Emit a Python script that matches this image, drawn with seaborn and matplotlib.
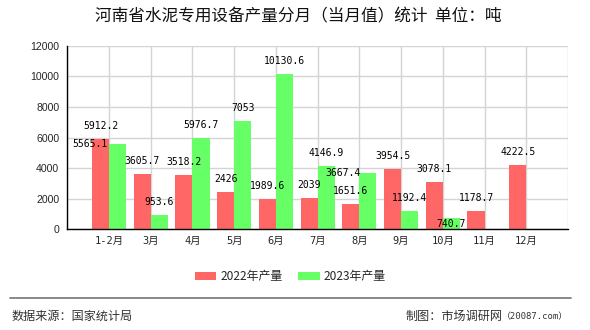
import numpy as np
import pandas as pd
import matplotlib
matplotlib.use("Agg")
import matplotlib.pyplot as plt
from matplotlib.lines import Line2D
from matplotlib.patches import Patch
import seaborn as sns

# ---- data -------------------------------------------------------------
months = ["1-2月", "3月", "4月", "5月", "6月", "7月", "8月", "9月", "10月", "11月", "12月"]
prod_2022 = [5912.2, 3605.7, 3518.2, 2426, 1989.6, 2039, 1651.6, 3954.5, 3078.1, 1178.7, 4222.5]
prod_2023 = [5565.1, 953.6, 5976.7, 7053, 10130.6, 4146.9, 3667.4, 1192.4, 740.7, np.nan, np.nan]
series_names = ["2022年产量", "2023年产量"]
y_ticks = [0, 2000, 4000, 6000, 8000, 10000, 12000]

title = "河南省水泥专用设备产量分月（当月值）统计  单位：吨"
source_text = "数据来源：国家统计局"
credit_name = "制图：市场调研网"
credit_site = "（20087.com）"

colors = ["#FF6666", "#66FF66"]

# label nudges (points) for labels that would otherwise collide
label_nudge = {("2023年产量", "1-2月"): (-20, -9.5),
               ("2023年产量", "8月"): (-18, -9.5),
               ("2023年产量", "10月"): (0, -13.5)}

# ---- long-form table --------------------------------------------------
df = pd.DataFrame({
    "month": months * 2,
    "series": [series_names[0]] * len(months) + [series_names[1]] * len(months),
    "value": prod_2022 + prod_2023,
})
df = df.dropna()

# ---- style ------------------------------------------------------------
sns.set_style("white")
plt.rcParams["font.family"] = ["Noto Sans CJK SC", "DejaVu Sans"]

fig = plt.figure(figsize=(5.9, 3.3), dpi=100)
ax = fig.add_axes([67.3 / 590, 1 - 229.3 / 330, (568 - 67.3) / 590, (229.3 - 45.7) / 330])

sns.barplot(data=df, x="month", y="value", hue="series", order=months,
            hue_order=series_names, palette=colors, width=0.82,
            saturation=1, linewidth=0, ax=ax, legend=False, zorder=3)

# value labels above each bar
mono = ["DejaVu Sans Mono", "Noto Sans CJK SC"]
for name, cont in zip(series_names, ax.containers):
    vals = prod_2022 if name == series_names[0] else prod_2023
    for bar, m, v in zip(cont, months, vals):
        if np.isnan(v):
            continue
        dx, dy = label_nudge.get((name, m), (0, 0))
        ax.annotate(f"{v:g}", xy=(bar.get_x() + bar.get_width() / 2, v),
                    xytext=(dx, 9.5 + dy), textcoords="offset points",
                    ha="center", va="center", fontsize=7, family=mono,
                    color="black", zorder=5)

# axes, ticks and grid
ax.set_xlim(-1, len(months))
ax.set_ylim(0, 12000)
ax.set_xticks(np.arange(-1, len(months) + 1))
ax.set_xticklabels([""] + months + [""], family=mono, fontsize=7.5)
ax.set_yticks(y_ticks)
ax.set_yticklabels([str(t) for t in y_ticks], family=["Liberation Sans"], fontsize=7.6)
ax.set_xlabel("")
ax.set_ylabel("")
ax.grid(True, color="#d4d4d4", linewidth=1, zorder=0)
ax.set_axisbelow(True)
for side in ["top", "right"]:
    ax.spines[side].set_visible(False)
for side in ["left", "bottom"]:
    ax.spines[side].set_color("black")
    ax.spines[side].set_linewidth(1)
    ax.spines[side].set_zorder(4)
ax.tick_params(axis="y", length=4.3, width=1, color="black", pad=1.5)
ax.tick_params(axis="x", length=3, width=1, color="black", pad=2)

# title
fig.text(298 / 590, 1 - 17.3 / 330, title, ha="center", va="center",
         fontsize=12, color="#111111")

# legend
handles = [Patch(facecolor=c, edgecolor="none") for c in colors]
fig.legend(handles, series_names, loc="center", bbox_to_anchor=(290.5 / 590, 1 - 276.7 / 330),
           ncol=2, frameon=False, fontsize=8.6, handlelength=1.8, handleheight=0.7,
           handletextpad=0.35, columnspacing=1.3, borderaxespad=0, borderpad=0)

# footer rule and texts
fig.add_artist(Line2D([10 / 590, 571 / 590], [1 - 298.3 / 330] * 2,
                      transform=fig.transFigure, color="#808080", linewidth=1.3))
fig.text(12 / 590, 1 - 316.7 / 330, source_text, ha="left", va="center",
         fontsize=8.7, color="#333333")
fig.text(503 / 590, 1 - 316.7 / 330, credit_name, ha="right", va="center",
         fontsize=8.7, color="#333333")
fig.text(568 / 590, 1 - 316.7 / 330, credit_site, ha="right", va="center",
         fontsize=6.4, family=mono, color="#333333")

fig.savefig("out.png", dpi=100)
